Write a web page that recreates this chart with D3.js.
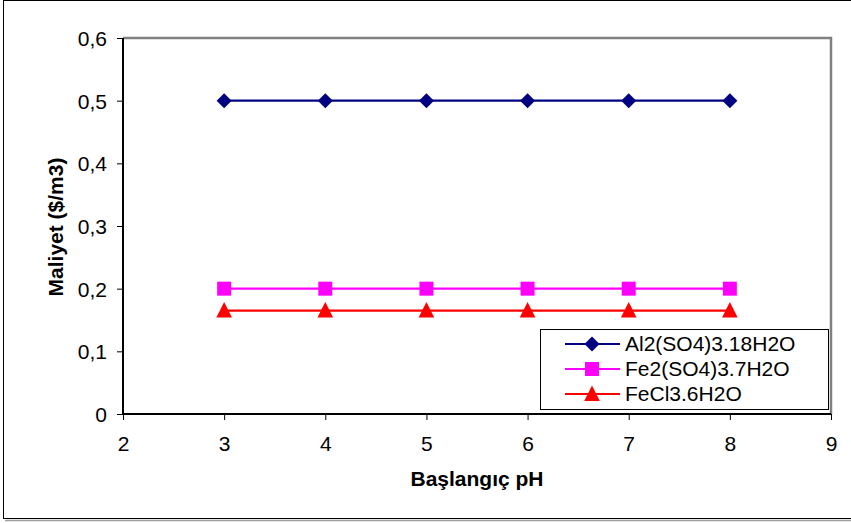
<!DOCTYPE html>
<html>
<head>
<meta charset="utf-8">
<script src="https://cdn.jsdelivr.net/npm/d3@7"></script>
<style>
  html, body { margin: 0; padding: 0; background: #fff; }
  svg { display: block; }
  text { font-family: Arial, "Liberation Sans", sans-serif; fill: #000; }
</style>
</head>
<body>
<svg id="chart" width="851" height="523"></svg>
<script>
// Coagulant cost versus starting pH
const phValues = [3, 4, 5, 6, 7, 8];
const seriesNames = ["Al2(SO4)3.18H2O", "Fe2(SO4)3.7H2O", "FeCl3.6H2O"];
const alumCost = [0.5, 0.5, 0.5, 0.5, 0.5, 0.5];
const ferricSulfateCost = [0.2, 0.2, 0.2, 0.2, 0.2, 0.2];
const ferricChlorideCost = [0.165, 0.165, 0.165, 0.165, 0.165, 0.165];
const xTicks = [2, 3, 4, 5, 6, 7, 8, 9];
const yTicks = [0, 0.1, 0.2, 0.3, 0.4, 0.5, 0.6];
const xTitle = "Başlangıç pH";
const yTitle = "Maliyet ($/m3)";

// marker shapes centred on the data point
const markerPaths = {
  diamond: "M0,-7.5L7.5,0L0,7.5L-7.5,0Z",
  square: "M-7,-7H7V7H-7Z",
  triangle: "M0,-8.5L7.8,7L-7.8,7Z"
};

const series = [
  { name: seriesNames[0], values: alumCost, color: "#000080", marker: "diamond" },
  { name: seriesNames[1], values: ferricSulfateCost, color: "#FF00FF", marker: "square" },
  { name: seriesNames[2], values: ferricChlorideCost, color: "#FF0000", marker: "triangle" }
];

const svg = d3.select("#chart");
const plot = { left: 123, right: 831, top: 38, bottom: 414 };
const fontSize = "21px";

const x = d3.scaleLinear().domain([2, 9]).range([plot.left, plot.right]);
const y = d3.scaleLinear().domain([0, 0.6]).range([plot.bottom, plot.top]);
const fmt = d => d === 0 ? "0" : d3.format(".1f")(d).replace(".", ",");

// outer chart frame with a light shadow under the bottom edge
svg.append("line").attr("x1", 5).attr("x2", 851).attr("y1", 520.5).attr("y2", 520.5)
  .attr("stroke", "#a0a0a0").attr("stroke-width", 1.5);
svg.append("rect").attr("x", 3.5).attr("y", 0.5).attr("width", 860).attr("height", 518)
  .attr("fill", "none").attr("stroke", "#000").attr("stroke-width", 1);

// plot area frame (top and right edges in gray)
svg.append("path")
  .attr("d", `M${plot.left},${plot.top}H${plot.right}V${plot.bottom}`)
  .attr("fill", "none").attr("stroke", "#808080").attr("stroke-width", 2.5);

// axes
const xAxis = svg.append("g").attr("transform", `translate(0,${plot.bottom})`)
  .call(d3.axisBottom(x).tickValues(xTicks).tickSize(6).tickPadding(16).tickFormat(d3.format("d")));
const yAxis = svg.append("g").attr("transform", `translate(${plot.left},0)`)
  .call(d3.axisLeft(y).tickValues(yTicks).tickSize(6).tickPadding(10).tickFormat(fmt));
[xAxis, yAxis].forEach(g => {
  g.attr("font-size", null).attr("font-family", null);
  g.select(".domain").attr("stroke", "#000").attr("stroke-width", 2);
  g.selectAll(".tick line").attr("stroke", "#000").attr("stroke-width", 1);
  g.selectAll(".tick text").style("font-size", fontSize);
});
xAxis.select(".domain").attr("d", `M${plot.left - 1},0H${plot.right}`);
yAxis.select(".domain").attr("d", `M0,${plot.top}V${plot.bottom}`);
yAxis.selectAll(".tick text").attr("dy", "0.35em");

// series lines and markers
const line = d3.line().x((d, i) => x(phValues[i])).y(d => y(d));
series.forEach(s => {
  svg.append("path").datum(s.values)
    .attr("d", line).attr("fill", "none")
    .attr("stroke", s.color).attr("stroke-width", 2.2);
  svg.append("g").selectAll("path").data(s.values).join("path")
    .attr("transform", (d, i) => `translate(${x(phValues[i])},${y(d)})`)
    .attr("d", markerPaths[s.marker])
    .attr("fill", s.color);
});

// axis titles
svg.append("text")
  .attr("x", 477).attr("y", 486)
  .attr("text-anchor", "middle")
  .style("font-size", fontSize).style("font-weight", "bold")
  .text(xTitle);
svg.append("text")
  .attr("transform", "translate(63,227) rotate(-90)")
  .attr("text-anchor", "middle")
  .style("font-size", fontSize).style("font-weight", "bold")
  .text(yTitle);

// legend
const legend = { x: 540.5, y: 329.5, w: 288, h: 80 };
svg.append("rect").attr("x", legend.x).attr("y", legend.y)
  .attr("width", legend.w).attr("height", legend.h)
  .attr("fill", "#fff").attr("stroke", "#000").attr("stroke-width", 1);
const rows = svg.append("g").selectAll("g").data(series).join("g")
  .attr("transform", (d, i) => `translate(0,${344 + i * 25})`);
rows.append("line").attr("x1", 565).attr("x2", 620)
  .attr("stroke", d => d.color).attr("stroke-width", 2.2);
rows.append("path")
  .attr("transform", "translate(592,0)")
  .attr("d", d => markerPaths[d.marker])
  .attr("fill", d => d.color);
rows.append("text").attr("x", 625).attr("dy", "0.35em")
  .style("font-size", fontSize)
  .text(d => d.name);
</script>
</body>
</html>
